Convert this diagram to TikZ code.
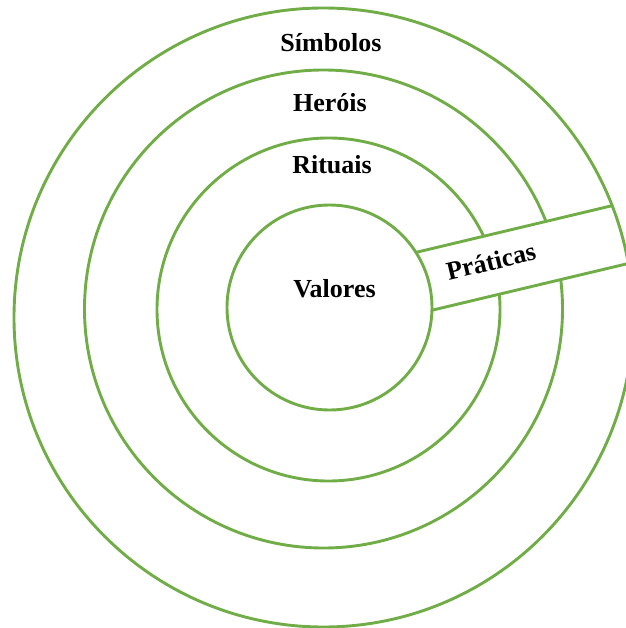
\documentclass[tikz,border=0pt]{standalone}
\usepackage{fontspec}
\setmainfont{Liberation Serif}
\definecolor{ringGreen}{RGB}{112, 173, 71}

\begin{document}
\begin{tikzpicture}[x=1pt, y=-1pt,
    ring/.style={ringGreen, line width=2.9pt},
    lbl/.style={font=\fontsize{26}{30}\selectfont\bfseries, anchor=base, inner sep=0pt}]
        \useasboundingbox (0,0) rectangle (625,628);
        % rings, outside in
        \draw[ring] (323.5,309) circle (239pt);
        \draw[ring] (328.5,309.5) circle (171.5pt);
        % band for the practices, cut at the outer ring
        \begin{scope}
          \clip (323.5,317.5) circle (309.5pt);
          \begin{scope}[shift={(433,310)}, rotate=13.4]
            \fill[white] (-40,0) rectangle (260,-60);
            \draw[ring] (-40,0) -- (260,0);
            \draw[ring] (-40,-60) -- (260,-60);
          \end{scope}
        \end{scope}
        \draw[ring] (323.5,317.5) circle (309.5pt);
        % core
        \draw[ring, fill=white] (329.5,307.5) circle (102.5pt);
        % labels
        \node[lbl] (simbolos) at (331,52) {Símbolos};
        \node[lbl] (herois) at (330,112) {Heróis};
        \node[lbl] (rituais) at (332,174) {Rituais};
        \node[lbl] (valores) at (334.5,297) {Valores};
        \node[lbl, rotate=13.4] (praticas) at (493,270) {Práticas};
      \end{tikzpicture}
\end{document}
